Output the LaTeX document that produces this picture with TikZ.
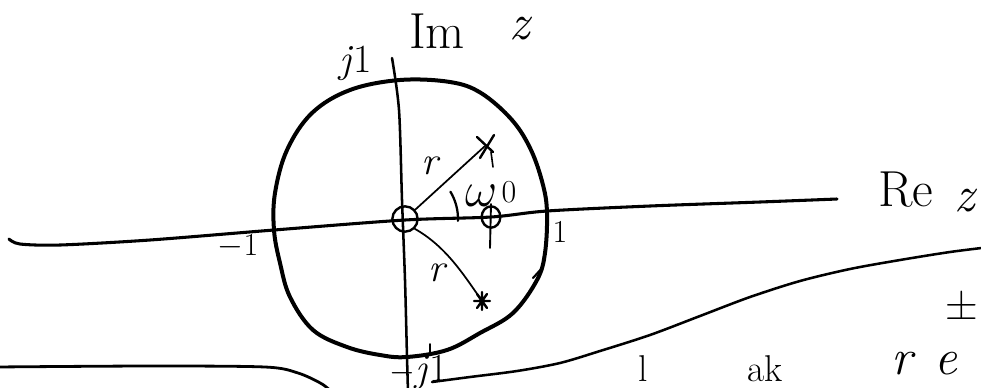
\documentclass[tikz,border=0pt]{standalone}
\usetikzlibrary{shapes.geometric,calc}
\begin{document}
\begin{tikzpicture}[x=0.75pt,y=-0.75pt,line cap=round,line join=round,
  axisline/.style={line width=2.3pt},
  contour/.style={line width=3pt},
  thinline/.style={line width=1.3pt},
  ringmark/.style={circle,draw,line width=1.8pt,inner sep=0pt},
  lbl/.style={inner sep=0pt},
  big/.style={lbl,font=\fontsize{38}{40}\selectfont},
  mid/.style={lbl,font=\fontsize{30}{32}\selectfont},
  small/.style={lbl,font=\fontsize{24}{26}\selectfont}]
\useasboundingbox (0,0) rectangle (981,387);
\clip (0,0) rectangle (981,387);
% unit contour
\draw[contour] plot[smooth cycle,tension=0.6] coordinates {(400,80) (450,82) (481,93) (512,120) (531,150) (543,185) (547,213) (545,253) (537,280) (513,313) (480,333) (447,350) (407,357) (380,355) (347,347) (313,330) (290,297) (280,263) (274,230) (275,193) (287,150) (312,113) (350,90)};
% real axis
\draw[axisline] plot[smooth] coordinates {(9,239) (20,244) (60,245) (150,240) (274,230) (405,220) (491,217) (547,211) (650,206) (760,202) (837,199)};
% imaginary axis
\draw[line width=1.9pt] plot[smooth] coordinates {(392,58) (399,110) (402,200) (405,280) (407,357) (408,392)};
% lower curves
\draw[line width=2.1pt] plot[smooth] coordinates {(-5,367) (150,366) (265,367) (298,373) (322,384) (335,395)};
\draw[line width=1.9pt] plot[smooth] coordinates {(432,382) (470,377) (517,371) (560,363) (600,351) (650,335) (700,316) (750,297) (800,281) (850,269) (900,260) (950,252) (990,247)};
% origin and zero
\node[ringmark,minimum size=19pt] (O) at (405,219) {};
\node[ellipse,draw,line width=1.8pt,inner sep=0pt,minimum width=14pt,minimum height=16pt] (Z) at (491,217) {};
\draw[line width=1.4pt] (491,204) -- (490,248);
% poles
\coordinate (P1) at (485,146);
\coordinate (P2) at (482,301);
\draw[thinline] (O) -- (P1);
\draw[thinline] (O.south east) .. controls (445,246) and (462,272) .. (P2);
\draw[line width=1.8pt] (477,137) -- (493,152) (494,135) -- (480,158);
\draw[line width=1.2pt] (491,152) -- (493,167);
\draw[line width=1.8pt] ($(P2)+(-8,0)$) -- ($(P2)+(8,0)$) ($(P2)+(-5,-7)$) -- ($(P2)+(5,7)$) ($(P2)+(5,-7)$) -- ($(P2)+(-5,7)$) ($(P2)+(0,-9)$) -- ($(P2)+(0,9)$);
% angle arc
\draw[line width=1.7pt] (O) ++(2:53) arc[start angle=2,end angle=-31,radius=53];
% small ticks
\draw[line width=1.6pt] (533,278) -- (543,267);
\draw[line width=1.3pt] (430,344) -- (430,352);
% labels
\node[big] at (437,31) {Im};
\node[big] at (521,29) {\textit{z}};
\node[mid] at (356,63) {\textit{j}1};
\node[big] at (906,190) {Re};
\node[big] at (966,201) {\textit{z}};
\node[small] at (238,246) {$-$1};
\node[small] at (560,232) {1};
\node[mid] at (431,166) {\textit{r}};
\node[mid] at (438,273) {\textit{r}};
\node[lbl,font=\fontsize{24}{26}\selectfont] at (491,194) {\scalebox{1.5}{$\omega$}\hspace{3pt}\raisebox{3pt}{0}};
\node[mid] at (419,372) {$-$\textit{j}1};
\node[lbl,font=\fontsize{34}{36}\selectfont] at (962,305) {±};
\node[big] at (925,364) {\textit{r}\hspace{14pt}\textit{e}};
\node[lbl,font=\fontsize{28}{30}\selectfont,anchor=base] at (643,381) {l};
\node[lbl,font=\fontsize{28}{30}\selectfont,anchor=base] at (765,381) {ak};
\end{tikzpicture}
\end{document}
